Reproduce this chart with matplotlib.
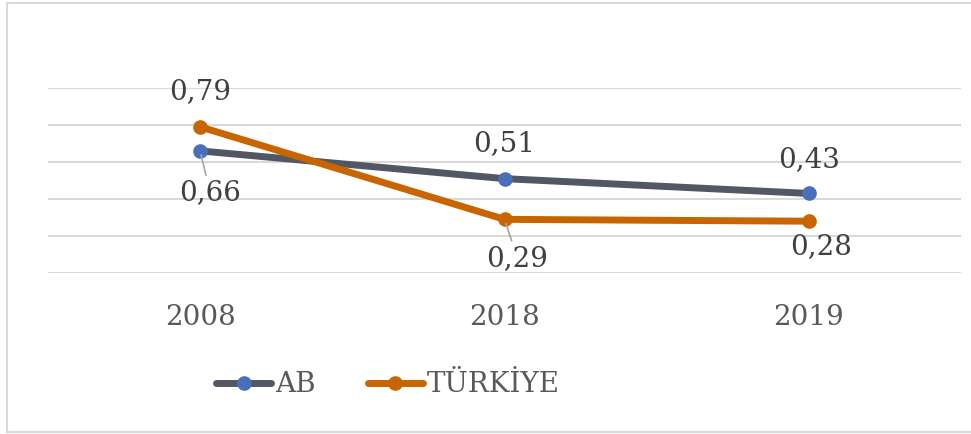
import matplotlib.pyplot as plt
from matplotlib.lines import Line2D

years = ['2008', '2018', '2019']
ab = [0.66, 0.51, 0.43]
turkiye = [0.79, 0.29, 0.28]
series_names = ['AB', 'TÜRKİYE']

plt.rcParams['font.family'] = ['DejaVu Serif']

W, H = 971, 434
FS = 20
fig = plt.figure(figsize=(W / 100, H / 100), dpi=100)
ax = fig.add_axes([48 / W, (H - 273) / H, (961 - 48) / W, (273 - 88) / H])

x = list(range(len(years)))
ax.plot(x, ab, color='#515763', lw=5, marker='o', ms=9.5,
        mfc='#4a6fba', mec='#4a6fba', solid_capstyle='round', label=series_names[0], zorder=3)
ax.plot(x, turkiye, color='#c86500', lw=5, marker='o', ms=9.5,
        mfc='#c86500', mec='#c86500', solid_capstyle='round', label=series_names[1], zorder=3)

ax.set_xlim(-0.5, 2.5)
ax.set_ylim(0, 1.0)
ax.set_yticks([0, 0.2, 0.4, 0.6, 0.8, 1.0])
ax.yaxis.grid(True, color='#d9d9d9', lw=1.5)
ax.set_axisbelow(True)
ax.tick_params(axis='y', left=False, labelleft=False)
ax.set_xticks(x)
ax.set_xticklabels(years, fontsize=FS, color='#595959')
ax.tick_params(axis='x', length=0, pad=22)
for s in ax.spines.values():
    s.set_visible(False)

def fmt(v):
    return f'{v:.2f}'.replace('.', ',')

lead = dict(arrowstyle='-', color='#a6a6a6', lw=1.2, shrinkA=1, shrinkB=3)
# (dx, dy, leader) label offsets in pixels
ab_offs = [(10, -42, True), (0, 35, False), (0, 34, False)]
tr_offs = [(0, 35, False), (13, -39, True), (12, -25, False)]
for vals, offs in ((ab, ab_offs), (turkiye, tr_offs)):
    for i, v in enumerate(vals):
        dx, dy, has_lead = offs[i]
        ax.annotate(fmt(v), (i, v), xytext=(dx, dy), textcoords='offset pixels',
                    ha='center', va='center', fontsize=FS, color='#404040',
                    arrowprops=lead if has_lead else None, zorder=4)

leg = fig.legend(loc='center', bbox_to_anchor=(388 / W, (H - 385) / H), ncol=2,
                 frameon=False, fontsize=FS, handlelength=2.0, columnspacing=1.85,
                 handletextpad=0.15, labelcolor='#595959')
for h in leg.legend_handles:
    h.set_solid_capstyle('round')

# chart frame (left, top, bottom)
c = '#d9d9d9'
fig.add_artist(Line2D([7 / W, 7 / W], [(H - 432) / H, (H - 3) / H], color=c, lw=1.5))
fig.add_artist(Line2D([7 / W, 1], [(H - 3) / H, (H - 3) / H], color=c, lw=1.5))
fig.add_artist(Line2D([7 / W, 1], [(H - 432) / H, (H - 432) / H], color=c, lw=1.5))

fig.savefig('out.png', dpi=100)
